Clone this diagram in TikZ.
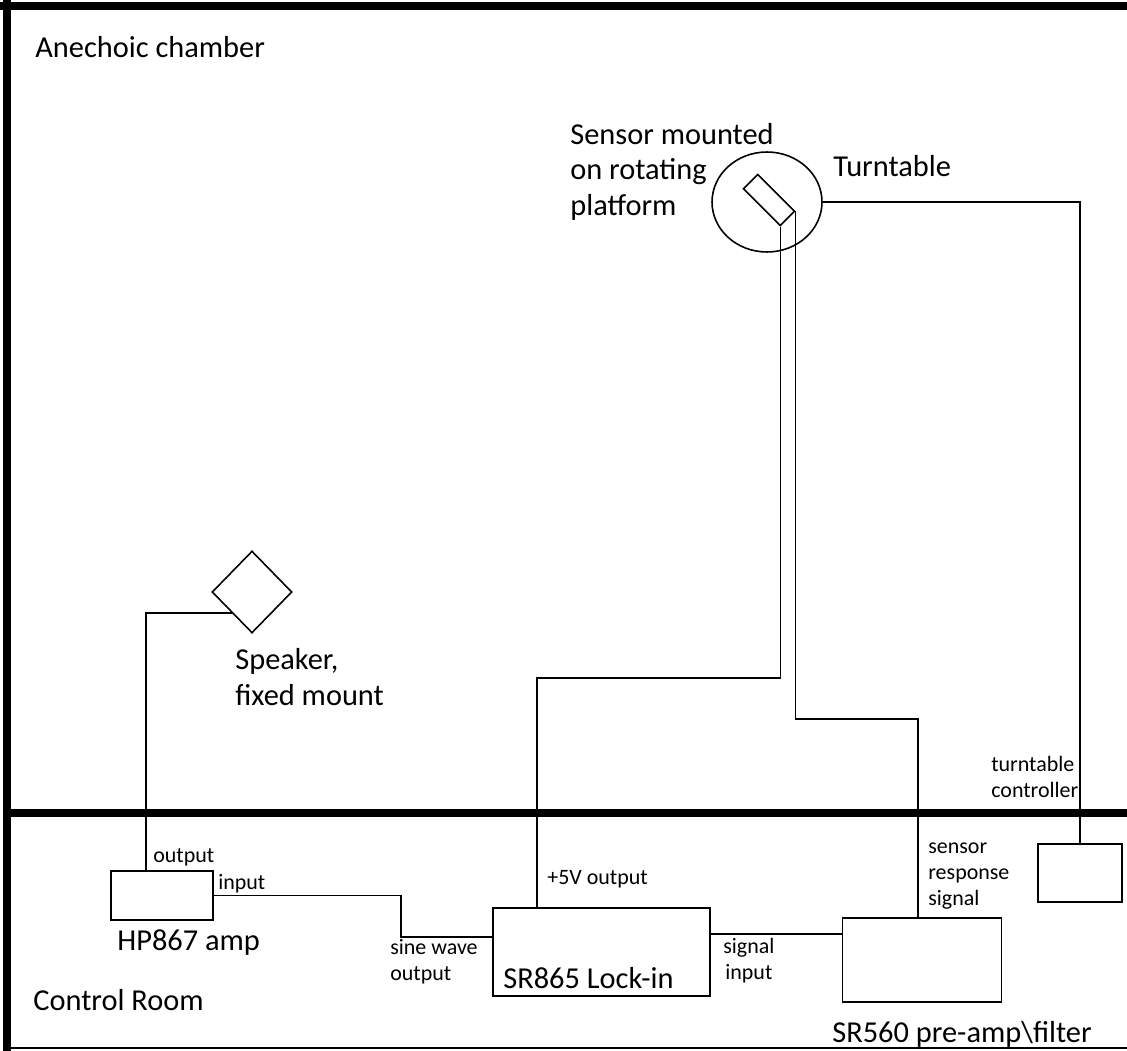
\documentclass[tikz,border=0pt]{standalone}
\usepackage{fontspec}
\setmainfont{Carlito}
\usetikzlibrary{shapes.geometric}
\tikzset{
  box/.style={draw, line width=0.9pt, inner sep=0pt},
  wire/.style={line width=0.9pt},
  wall/.style={line width=4pt},
  big/.style={font=\fontsize{17.3}{20}\selectfont, inner sep=0pt, align=left, anchor=base west},
  small/.style={font=\fontsize{12.5}{14.7}\selectfont, inner sep=0pt, align=left, anchor=base west},
}
\begin{document}
\begin{tikzpicture}[x=0.02cm, y=-0.02cm]
  \useasboundingbox (0,0) rectangle (1127,1051);
  % walls of the two rooms
  \draw[wall, line width=4.5pt] (0,6) -- (1127,6);
  \draw[wall] (7,0) -- (7,1051);
  \draw[wall] (7,813) -- (1127,813);
  \draw[wall, line width=1.7pt] (7,1048) -- (1127,1048);

  \node[box, minimum width=2.04cm, minimum height=0.98cm] (amp) at (162,895.5) {};
  \node[box, minimum width=4.34cm, minimum height=1.76cm] (lockin) at (601.5,952) {};
  \node[box, minimum width=3.18cm, minimum height=1.68cm] (preamp) at (922,960) {};
  \node[box, minimum width=1.68cm, minimum height=1.16cm] (ctrl) at (1080,873) {};
  \node[box, diamond, minimum width=1.6cm, minimum height=1.64cm] (spk) at (252,592) {};
  \node[box, ellipse, minimum width=2.2cm, minimum height=2.0cm] (tt) at (767,202) {};
  \node[box, rotate=-45, minimum width=1.04cm, minimum height=0.4cm] (sensor) at (769,200) {};

  \coordinate (levA) at (0,678);
  \coordinate (levB) at (0,719);
  \coordinate (sinebend) at (401,937);
  \coordinate (sigin) at ([yshift=0.52cm]preamp.west);

  \draw[wire] (spk.south west) -| ([xshift=-0.32cm]amp.north);
  \draw[wire] (amp.east) -| (sinebend) -- (sinebend -| lockin.west);
  \draw[wire] (sensor.south east) -- (sensor.south east |- levA) -| ([xshift=-1.29cm]lockin.north);
  \draw[wire] (sensor.north east) -- (sensor.north east |- levB) -| ([xshift=-0.08cm]preamp.north);
  \draw[wire] (sigin -| lockin.east) -- (sigin);
  \draw[wire] (tt.east) -| (ctrl.north);

  \node[big] (chamberlbl) at (35,58) {Anechoic chamber};
  \node[big] (roomlbl) at (33,1010) {Control Room};
  \node[big] (sensorlbl) at (570,215) {Sensor mounted\\on rotating\\platform};
  \node[big] (ttlbl) at (833,177) {Turntable};
  \node[big] (spklbl) at (235,705) {Speaker,\\fixed mount};
  \node[big] (amplbl) at (117,950) {HP867 amp};
  \node[big] (lockinlbl) at (503,988) {SR865 Lock-in};
  \node[big] (preamplbl) at (832,1042) {SR560 pre-amp\textbackslash filter};

  \node[small] (outlbl) at (153,862) {output};
  \node[small] (inlbl) at (218,889) {input};
  \node[small] (fivevlbl) at (547,884) {+5V output};
  \node[small] (sinelbl) at (390,980) {sine wave\\output};
  \node[small, align=center] (siglbl) at (723,979) {signal\\input};
  \node[small] (resplbl) at (928,905) {sensor\\response\\signal};
  \node[small] (ctrllbl) at (991,797) {turntable\\controller};
\end{tikzpicture}
\end{document}
